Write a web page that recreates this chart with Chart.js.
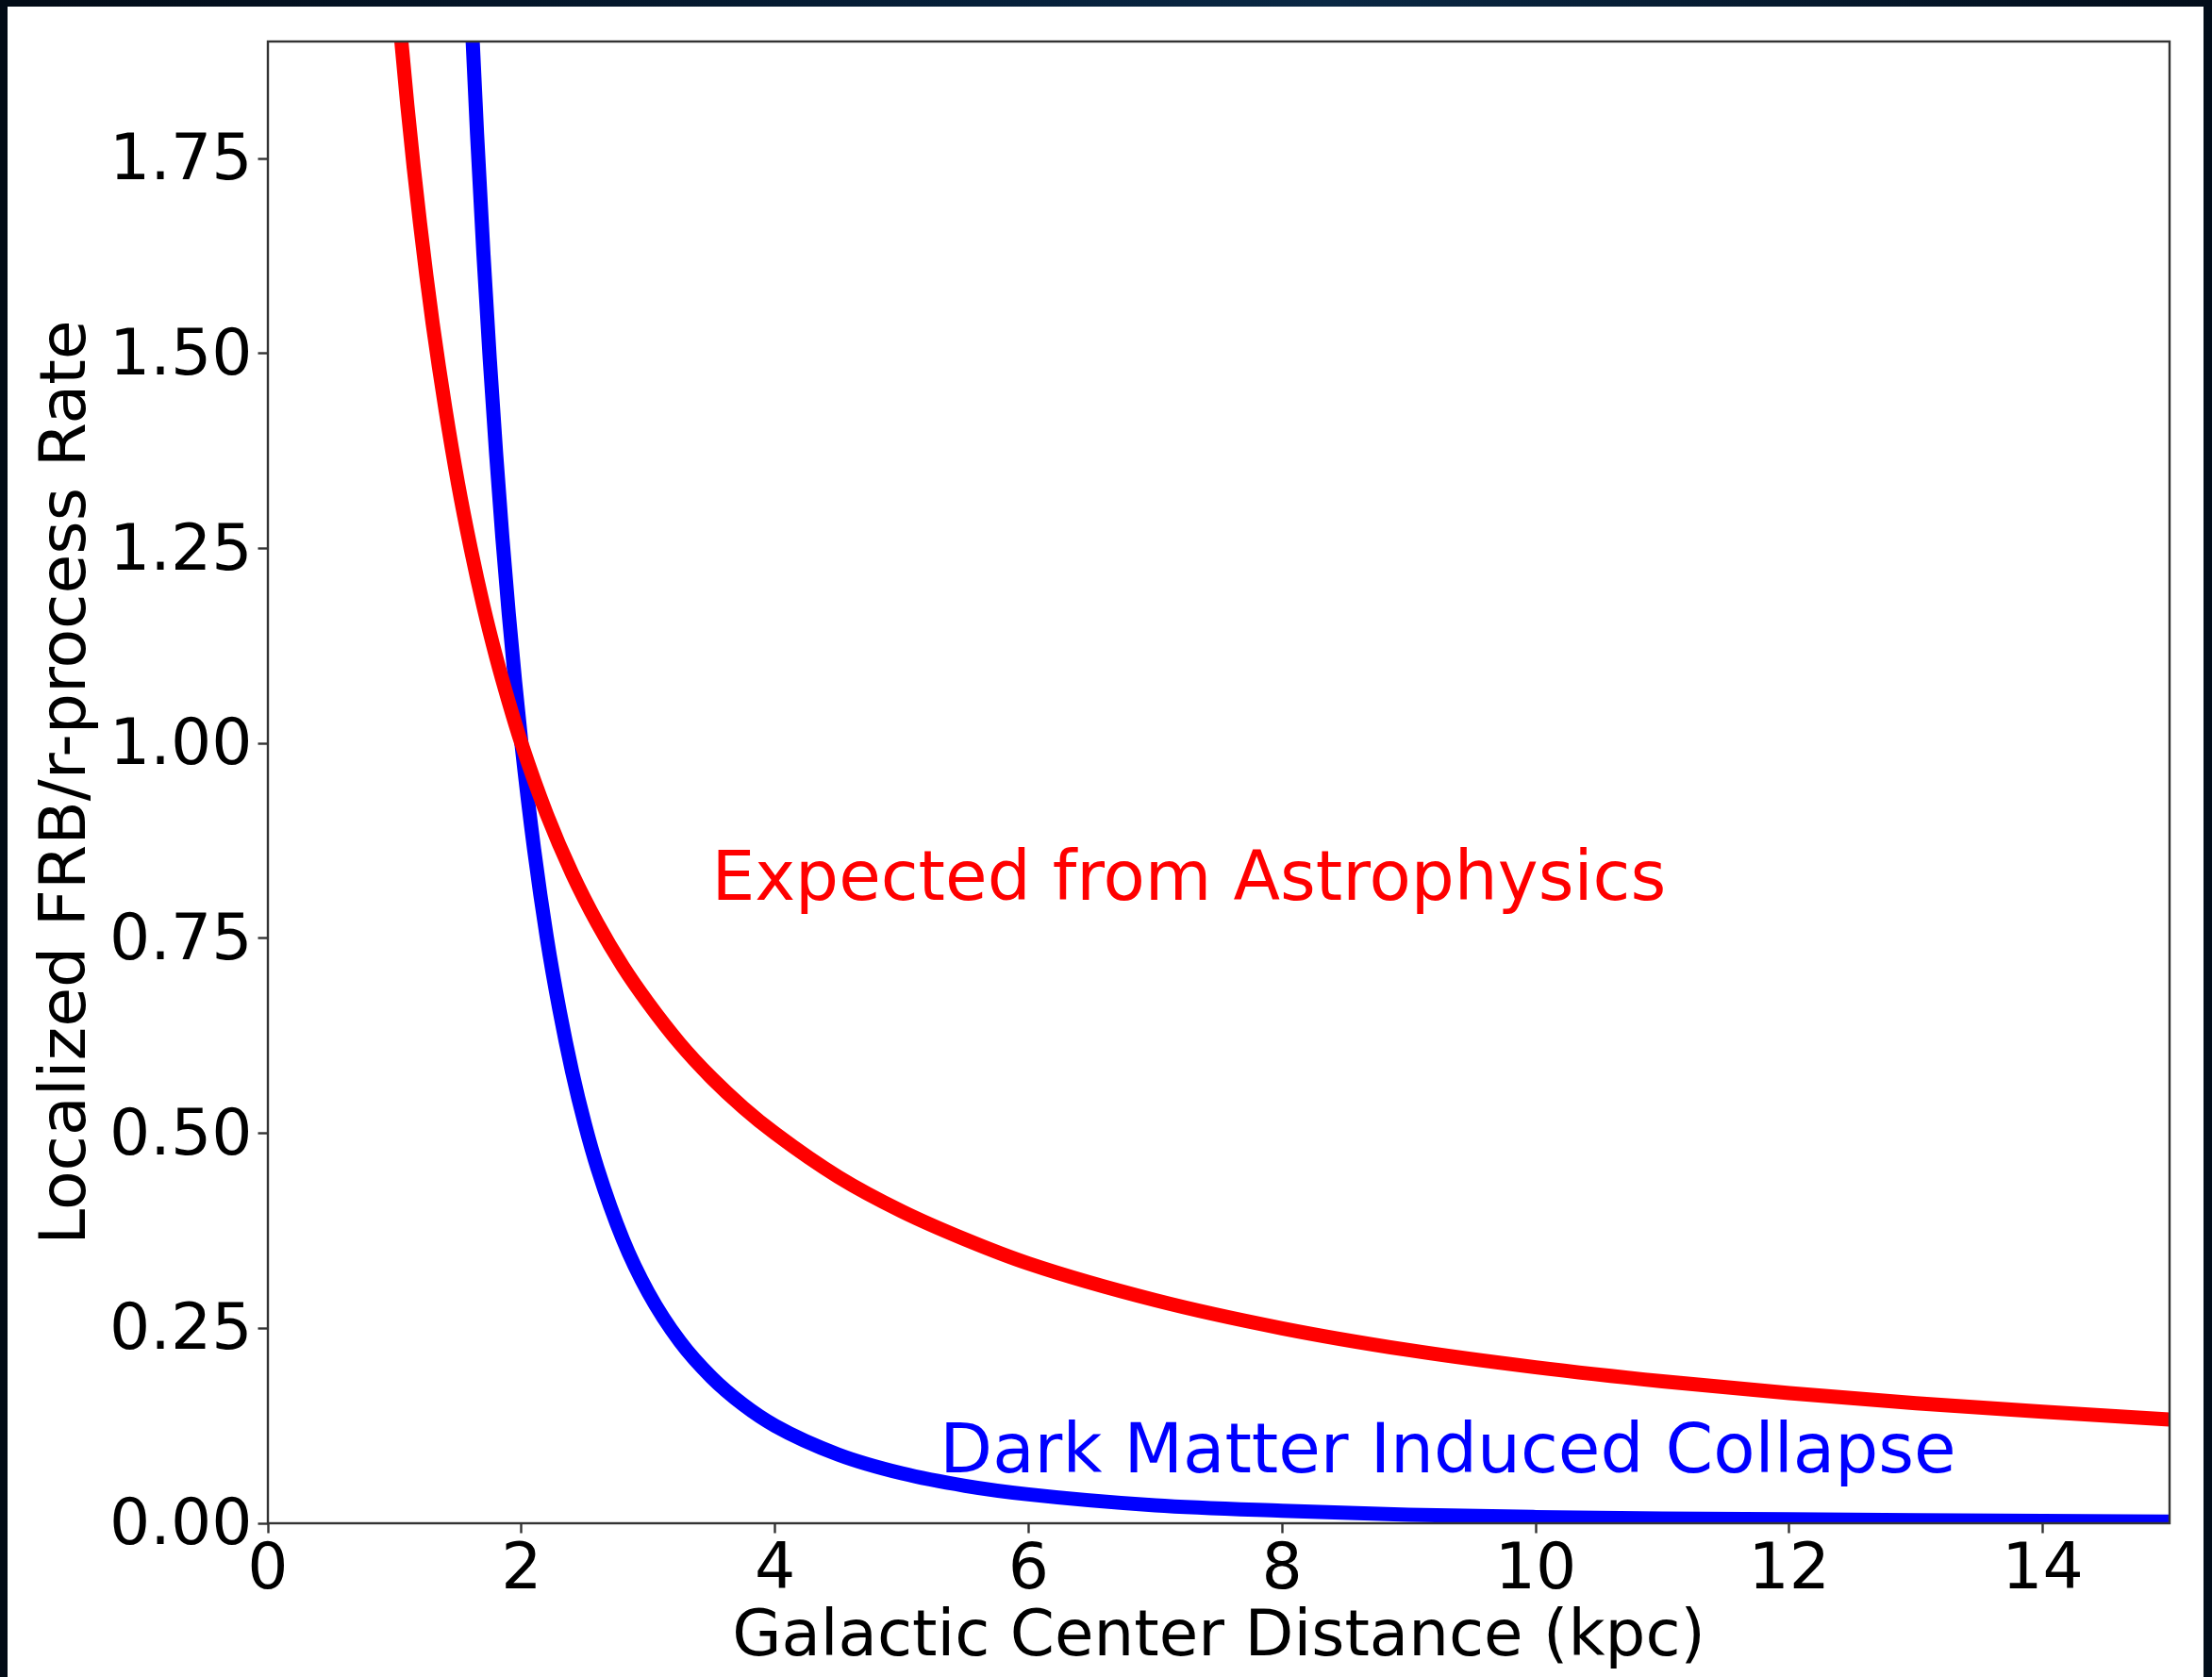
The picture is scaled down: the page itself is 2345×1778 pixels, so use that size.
<!DOCTYPE html>
<html>
<head>
<meta charset="utf-8">
<script src="https://cdn.jsdelivr.net/npm/chart.js@4.4.0/dist/chart.umd.min.js"></script>
<style>
  html, body { margin: 0; padding: 0; }
  body {
    width: 2345px; height: 1778px; overflow: hidden; position: relative;
    background: linear-gradient(90deg, #020b16 0%, #06203a 45%, #0a2844 60%, #020d1a 100%);
  }
  #panel { position: absolute; left: 8px; top: 7px; width: 2328px; height: 1771px; background: #fff; }
  #chart { position: absolute; left: 0; top: 0; }
</style>
</head>
<body>
<div id="panel"></div>
<canvas id="chart" width="2345" height="1778"></canvas>
<script>
// 거리 (kpc) 와 값 - 그림에서 읽은 값
const xRed = [1.0, 1.05, 1.1, 1.15, 1.2, 1.25, 1.3, 1.4, 1.5, 1.6, 1.7, 1.8, 1.9, 2.0, 2.2, 2.4, 2.6, 2.8, 3.0, 3.25, 3.5, 3.75, 4, 4.5, 5, 5.5, 6, 7, 8, 9, 10, 11, 12, 13, 14, 15];
const redRate = [2.000, 1.905, 1.818, 1.739, 1.667, 1.600, 1.538, 1.429, 1.333, 1.250, 1.176, 1.111, 1.053, 1.000, 0.909, 0.833, 0.769, 0.714, 0.667, 0.615, 0.571, 0.533, 0.500, 0.444, 0.400, 0.364, 0.333, 0.286, 0.250, 0.222, 0.200, 0.182, 0.167, 0.154, 0.143, 0.133];

const xBlue = [1.5, 1.55, 1.6, 1.65, 1.7, 1.75, 1.8, 1.85, 1.9, 1.95, 2.0, 2.1, 2.2, 2.3, 2.4, 2.5, 2.6, 2.8, 3.0, 3.25, 3.5, 3.75, 4, 4.5, 5, 5.5, 6, 7, 8, 9, 10, 11, 12, 13, 14, 15];
const blueRate = [2.370, 2.148, 1.953, 1.781, 1.628, 1.493, 1.372, 1.263, 1.166, 1.079, 1.000, 0.864, 0.751, 0.658, 0.579, 0.512, 0.455, 0.364, 0.296, 0.233, 0.187, 0.152, 0.125, 0.088, 0.064, 0.048, 0.037, 0.023, 0.016, 0.011, 0.008, 0.006, 0.005, 0.004, 0.003, 0.002];

const xTicks = [0, 2, 4, 6, 8, 10, 12, 14];
const yTicks = [0, 0.25, 0.5, 0.75, 1.0, 1.25, 1.5, 1.75];

// 곡선 옆 글자
const noteTexts = ['Expected from Astrophysics', 'Dark Matter Induced Collapse'];
const noteX = [3.5, 5.3];
const noteY = [0.8, 0.065];
const noteColors = ['#ff0000', '#0000ff'];

const FONT = "'DejaVu Sans', sans-serif";

// 테두리 + 글자 그리기
const framePlugin = {
  id: 'frame',
  afterDatasetsDraw(chart) {
    const { ctx, chartArea: a, scales } = chart;
    ctx.save();
    ctx.font = `72.5px ${FONT}`;
    ctx.textAlign = 'left';
    ctx.textBaseline = 'alphabetic';
    noteTexts.forEach((t, i) => {
      ctx.fillStyle = noteColors[i];
      ctx.fillText(t, scales.x.getPixelForValue(noteX[i]), scales.y.getPixelForValue(noteY[i]));
    });
    ctx.strokeStyle = '#333';
    ctx.lineWidth = 2.4;
    ctx.strokeRect(a.left, a.top, a.right - a.left, a.bottom - a.top);
    ctx.restore();
  }
};

const ctx = document.getElementById('chart').getContext('2d');
new Chart(ctx, {
  type: 'line',
  data: {
    datasets: [{
      label: 'Expected from Astrophysics',
      data: xRed.map((x, i) => ({ x: x, y: redRate[i] })),
      borderColor: '#ff0000',
      borderWidth: 15,
      pointRadius: 0,
      cubicInterpolationMode: 'monotone',
      fill: false,
    }, {
      label: 'Dark Matter Induced Collapse',
      data: xBlue.map((x, i) => ({ x: x, y: blueRate[i] })),
      borderColor: '#0000ff',
      borderWidth: 15,
      pointRadius: 0,
      cubicInterpolationMode: 'monotone',
      fill: false,
    }],
  },
  options: {
    responsive: false,
    animation: false,
    devicePixelRatio: 1,
    layout: { padding: { top: 44, right: 45, left: 0, bottom: 0 } },
    plugins: {
      legend: { display: false },
      tooltip: { enabled: false },
    },
    scales: {
      x: {
        type: 'linear',
        min: 0,
        max: 15,
        afterBuildTicks: (s) => { s.ticks = xTicks.map(v => ({ value: v })); },
        afterFit: (s) => { s.height = 163; s.paddingLeft = 0; s.paddingRight = 0; },
        grid: { drawOnChartArea: false, drawTicks: true, tickLength: 10.5, tickWidth: 2.4, tickColor: '#333' },
        border: { display: false },
        ticks: {
          color: '#000',
          font: { family: FONT, size: 68 },
          padding: 0,
          maxRotation: 0,
          autoSkip: false,
          callback: (v) => String(v),
        },
        title: {
          display: true,
          text: 'Galactic Center Distance (kpc)',
          color: '#000',
          font: { family: FONT, size: 67.5 },
          padding: { top: 0, bottom: 0 },
        },
      },
      y: {
        type: 'linear',
        min: 0,
        max: 1.9,
        afterBuildTicks: (s) => { s.ticks = yTicks.map(v => ({ value: v })); },
        afterFit: (s) => { s.width = 284; s.paddingTop = 0; s.paddingBottom = 0; },
        grid: { drawOnChartArea: false, drawTicks: true, tickLength: 10.5, tickWidth: 2.4, tickColor: '#333' },
        border: { display: false },
        ticks: {
          color: '#000',
          font: { family: FONT, size: 68 },
          padding: 6,
          labelOffset: 4.5,
          autoSkip: false,
          callback: (v) => Number(v).toFixed(2),
        },
        title: {
          display: true,
          text: 'Localized FRB/r-process Rate',
          color: '#000',
          font: { family: FONT, size: 68 },
          padding: { top: 32, bottom: 0 },
        },
      },
    },
  },
  plugins: [framePlugin],
});
</script>
</body>
</html>
